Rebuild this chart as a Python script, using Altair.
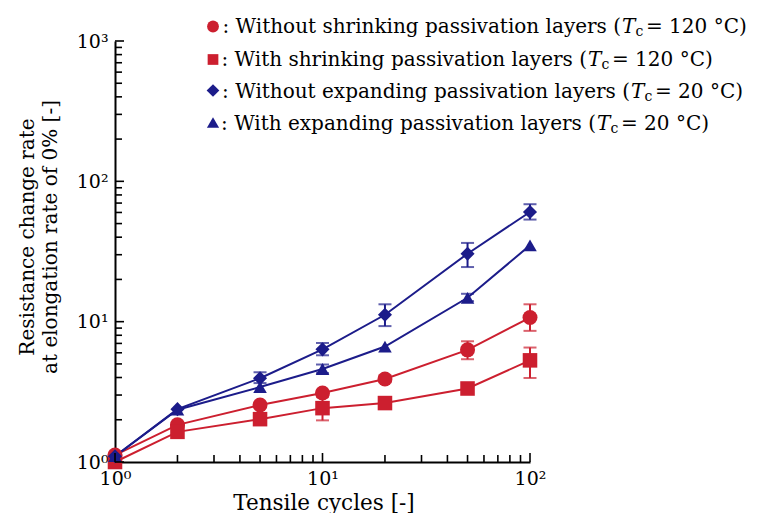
import altair as alt
import pandas as pd

# ---------------- data ----------------
cycles = [1, 2, 5, 10, 20, 50, 100]
series_names = ["Without shrinking", "With shrinking", "Without expanding", "With expanding"]
without_shrink = [1.12, 1.84, 2.55, 3.10, 3.90, 6.30, 10.7]
with_shrink = [1.00, 1.64, 2.02, 2.42, 2.63, 3.34, 5.30]
without_expand = [1.10, 2.38, 3.95, 6.35, 11.2, 30.5, 60.5]
with_expand = [1.10, 2.36, 3.42, 4.60, 6.65, 14.8, 35.0]

# error bars: cycle, low, high
err_without_shrink = [(20, 3.70, 4.15), (50, 5.40, 7.25), (100, 8.60, 13.3)]
err_with_shrink = [(10, 1.98, 2.90), (100, 3.97, 6.54)]
err_without_expand = [(5, 3.65, 4.36), (10, 5.76, 7.05), (20, 9.30, 13.3), (50, 24.5, 36.4), (100, 53.4, 68.7)]
err_with_expand = [(10, 4.30, 4.95), (50, 14.0, 15.8)]

x_major_ticks = [1, 10, 100]
x_minor_ticks = [2, 3, 4, 5, 6, 7, 8, 9, 20, 30, 40, 50, 60, 70, 80, 90]
y_major_ticks = [1, 10, 100, 1000]
y_minor_ticks = [2, 3, 4, 5, 6, 7, 8, 9, 20, 30, 40, 50, 60, 70, 80, 90,
                 200, 300, 400, 500, 600, 700, 800, 900]

legend_main = [": Without shrinking passivation layers (",
               ": With shrinking passivation layers (",
               ": Without expanding passivation layers (",
               ": With expanding passivation layers ("]
legend_tail = ["= 120 °C)", "= 120 °C)", "= 20 °C)", "= 20 °C)"]

# ---------------- styles ----------------
RED = "#cc1f2f"
BLUE = "#1c1c8a"
colors = [RED, RED, BLUE, BLUE]
shapes = ["circle", "square", "diamond", "triangle-up"]
sizes = [225, 185, 260, 240]
FONT = "DejaVu Serif"
W, H = 415, 421

values_by_series = [without_shrink, with_shrink, without_expand, with_expand]
errs_by_series = [err_without_shrink, err_with_shrink, err_without_expand, err_with_expand]

rows = []
for name, vals in zip(series_names, values_by_series):
    for c, v in zip(cycles, vals):
        rows.append({"series": name, "cycles": c, "value": v})
df = pd.DataFrame(rows)

erows = []
for name, errs in zip(series_names, errs_by_series):
    for c, lo, hi in errs:
        erows.append({"series": name, "cycles": c, "lo": lo, "hi": hi})
edf = pd.DataFrame(erows)

xscale = alt.Scale(type="log", domain=[1, 100], nice=False)
yscale = alt.Scale(type="log", domain=[1, 1000], nice=False)
cscale = alt.Scale(domain=series_names, range=colors)

sup = "{'1': '10\u2070', '10': '10\u00b9', '100': '10\u00b2', '1000': '10\u00b3'}[toString(datum.value)]"

x_axis = alt.Axis(values=x_major_ticks, labelExpr=sup, ticks=False, grid=False, title=None,
                  domainColor="black", domainWidth=2, labelFont=FONT, labelFontSize=19,
                  labelColor="black", labelPadding=7, labelFlush=False, labelOverlap=False)
y_axis = alt.Axis(values=y_major_ticks, labelExpr=sup, ticks=False, grid=False, title=None,
                  domainColor="black", domainWidth=2, labelFont=FONT, labelFontSize=19,
                  labelColor="black", labelPadding=7, labelFlush=False, labelOverlap=False)

base = alt.Chart(df)

lines = base.mark_line(strokeWidth=2).encode(
    x=alt.X("cycles:Q", scale=xscale, axis=x_axis),
    y=alt.Y("value:Q", scale=yscale, axis=y_axis),
    color=alt.Color("series:N", scale=cscale, legend=None),
    detail="series:N",
)

ebase = alt.Chart(edf)
erules = ebase.mark_rule(strokeWidth=2).encode(
    x=alt.X("cycles:Q", scale=xscale),
    y=alt.Y("lo:Q", scale=yscale),
    y2="hi:Q",
    color=alt.Color("series:N", scale=cscale, legend=None),
)
cap_lo = ebase.mark_tick(orient="horizontal", thickness=2, size=13).encode(
    x=alt.X("cycles:Q", scale=xscale),
    y=alt.Y("lo:Q", scale=yscale),
    color=alt.Color("series:N", scale=cscale, legend=None),
)
cap_hi = ebase.mark_tick(orient="horizontal", thickness=2, size=13).encode(
    x=alt.X("cycles:Q", scale=xscale),
    y=alt.Y("hi:Q", scale=yscale),
    color=alt.Color("series:N", scale=cscale, legend=None),
)

points = base.mark_point(filled=True, opacity=1).encode(
    x=alt.X("cycles:Q", scale=xscale),
    y=alt.Y("value:Q", scale=yscale),
    color=alt.Color("series:N", scale=cscale, legend=None),
    shape=alt.Shape("series:N", scale=alt.Scale(domain=series_names, range=shapes), legend=None),
    size=alt.Size("series:N", scale=alt.Scale(domain=series_names, range=sizes), legend=None),
)

# inward axis ticks
def xticks(vals, length):
    return alt.Chart(pd.DataFrame({"t": vals})).mark_rule(color="black", strokeWidth=1.6).encode(
        x=alt.X("t:Q", scale=xscale), y=alt.value(H), y2=alt.value(H - length))

def yticks(vals, length):
    return alt.Chart(pd.DataFrame({"t": vals})).mark_rule(color="black", strokeWidth=1.6).encode(
        y=alt.Y("t:Q", scale=yscale), x=alt.value(0), x2=alt.value(length))

tick_layers = [xticks(x_major_ticks, 9), xticks(x_minor_ticks, 7),
               yticks(y_major_ticks, 9), yticks(y_minor_ticks, 7)]

one = pd.DataFrame({"a": [0]})

# axis titles
x_title = alt.Chart(one).mark_text(text="Tensile cycles [-]", font=FONT, fontSize=21.5,
                                   align="center", baseline="alphabetic", color="black").encode(
    x=alt.value(209), y=alt.value(468.5))
y_title1 = alt.Chart(one).mark_text(text="Resistance change rate", font=FONT, fontSize=20,
                                    angle=270, align="center", baseline="middle", color="black").encode(
    x=alt.value(-87), y=alt.value(196))
y_title2 = alt.Chart(one).mark_text(text="at elongation rate of 0% [-]", font=FONT, fontSize=20,
                                    angle=270, align="center", baseline="middle", color="black").encode(
    x=alt.value(-64), y=alt.value(196))

# custom legend
LFS = 20
marker_x = 98
marker_y = [-14.5, 18.5, 49.5, 81.5]
text_base = [-8.5, 24.5, 56.5, 89]
paren_x = [506, 472, 515, 481]
legend_layers = []
for i in range(4):
    legend_layers.append(alt.Chart(one).mark_point(filled=True, opacity=1, shape=shapes[i],
                                                   size=sizes[i] * 0.62, color=colors[i]).encode(
        x=alt.value(marker_x), y=alt.value(marker_y[i])))
    legend_layers.append(alt.Chart(one).mark_text(text=legend_main[i], font=FONT, fontSize=LFS,
                                                  align="right", baseline="alphabetic", color="black").encode(
        x=alt.value(paren_x[i]), y=alt.value(text_base[i])))
    legend_layers.append(alt.Chart(one).mark_text(text="T", font=FONT, fontSize=LFS, fontStyle="italic",
                                                  align="left", baseline="alphabetic", color="black").encode(
        x=alt.value(paren_x[i] + 1), y=alt.value(text_base[i])))
    legend_layers.append(alt.Chart(one).mark_text(text="c", font=FONT, fontSize=14,
                                                  align="left", baseline="alphabetic", color="black").encode(
        x=alt.value(paren_x[i] + 14.5), y=alt.value(text_base[i] + 3)))
    legend_layers.append(alt.Chart(one).mark_text(text=legend_tail[i], font=FONT, fontSize=LFS,
                                                  align="left", baseline="alphabetic", color="black").encode(
        x=alt.value(paren_x[i] + 25), y=alt.value(text_base[i])))

chart = alt.layer(
    lines, erules, cap_lo, cap_hi, points, *tick_layers,
    x_title, y_title1, y_title2, *legend_layers
).properties(
    width=W, height=H,
    autosize=alt.AutoSizeParams(type="none"),
    padding={"left": 107, "top": 33, "right": 226, "bottom": 51},
    background="white",
).configure_view(stroke=None)

chart.save("out.html", embed_options={"renderer": "svg", "actions": False})
